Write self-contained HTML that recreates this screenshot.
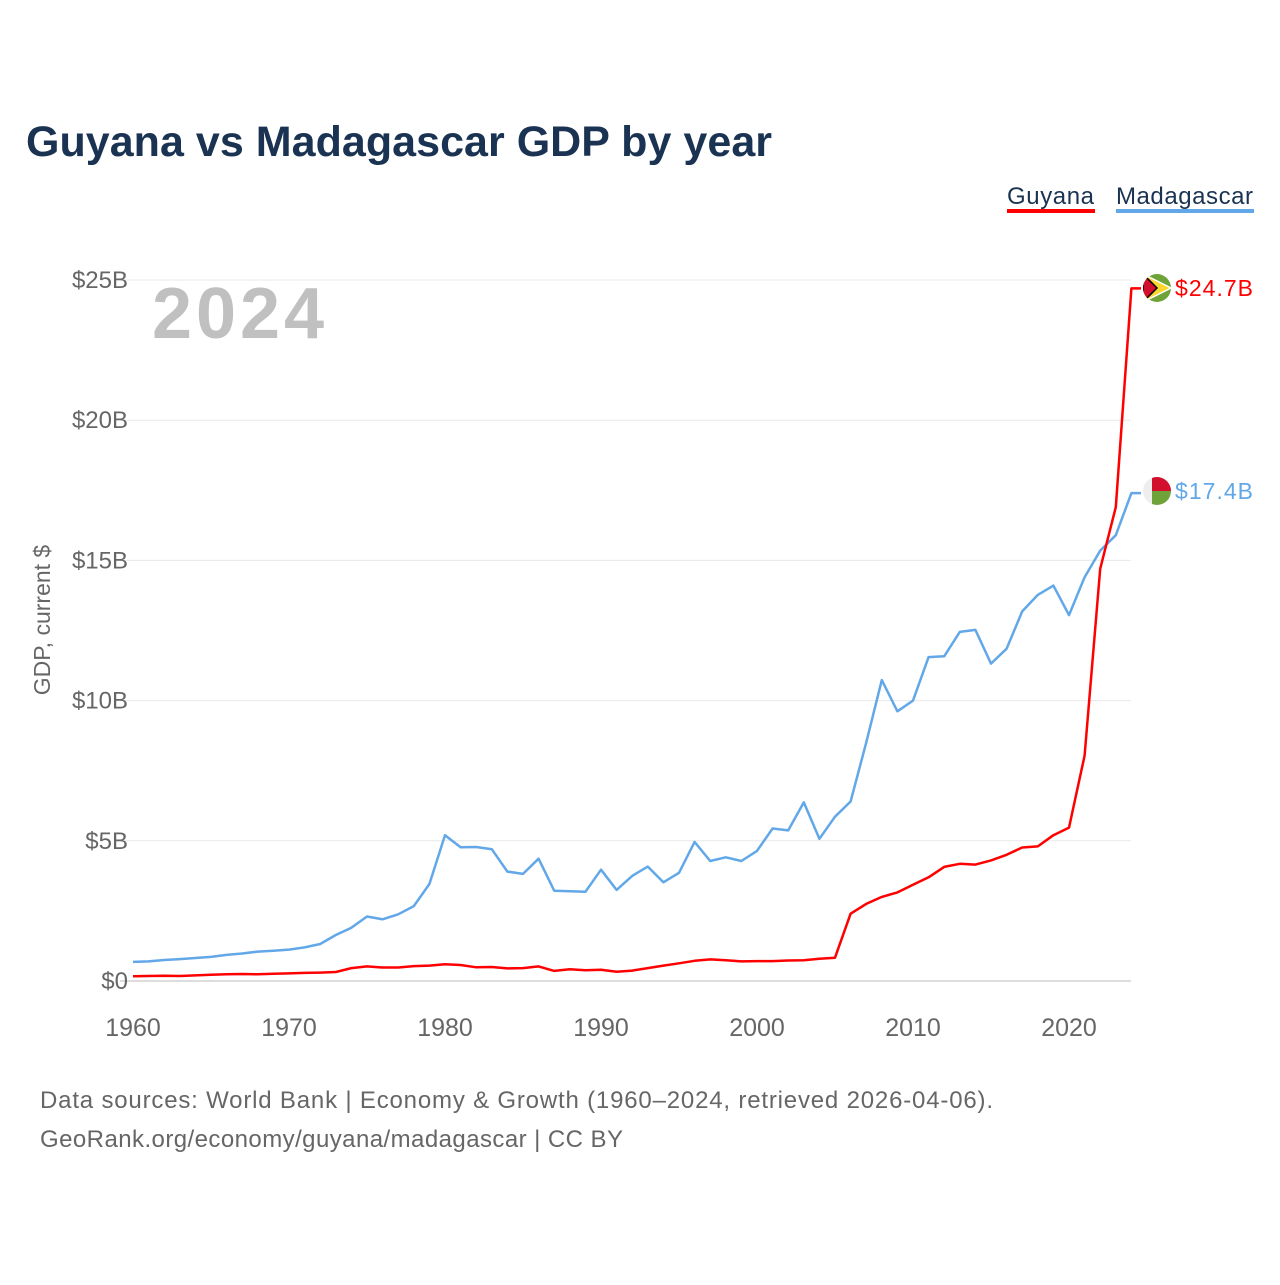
<!DOCTYPE html>
<html><head><meta charset="utf-8"><style>
body{margin:0;background:#fff;width:1280px;height:1280px;overflow:hidden;font-family:"Liberation Sans",sans-serif}
</style></head><body>
<svg width="1280" height="1280" id="chart" xmlns="http://www.w3.org/2000/svg">
<text x="26" y="156" font-size="43" font-weight="bold" fill="#1b3352" textLength="746">Guyana vs Madagascar GDP by year</text>
<g>
<text x="1007" y="204" font-size="24" fill="#1b3352" textLength="87">Guyana</text>
<rect x="1007" y="209" width="88" height="4" fill="#ff0000"/>
<text x="1116" y="204" font-size="24" fill="#1b3352" textLength="137">Madagascar</text>
<rect x="1116" y="209" width="138" height="4" fill="#62a8e8"/>
</g>
<text x="152" y="338" font-size="72" font-weight="bold" fill="#c0c0c0" textLength="172">2024</text>
<text transform="translate(50,620) rotate(-90)" text-anchor="middle" font-size="23" fill="#666">GDP, current $</text>
<g id="grid"></g><g id="lines"></g>
<g>
<clipPath id="cg"><circle cx="1157" cy="288" r="14"/></clipPath>
<g clip-path="url(#cg)"><rect x="1143" y="274" width="28" height="28" fill="#6fa33a"/>
<polygon points="1143,274 1171,288 1143,302" fill="#f8d62e" stroke="#fff" stroke-width="1.5"/>
<polygon points="1143,274 1157,288 1143,302" fill="#d2102e" stroke="#000" stroke-width="1.5"/></g></g>
<g>
<clipPath id="cm"><circle cx="1157" cy="491" r="14"/></clipPath>
<g clip-path="url(#cm)"><rect x="1143" y="477" width="28" height="28" fill="#eee"/>
<rect x="1152" y="477" width="20" height="14" fill="#d2102e"/><rect x="1152" y="491" width="20" height="14" fill="#6fa33a"/></g></g>
<text x="1175" y="296" font-size="23" fill="#ff0000" textLength="78">$24.7B</text>
<text x="1175" y="499" font-size="23" fill="#62a8e8" textLength="78">$17.4B</text>
<text x="40" y="1108" font-size="24" fill="#666" textLength="953">Data sources: World Bank | Economy &amp; Growth (1960–2024, retrieved 2026-04-06).</text>
<text x="40" y="1147" font-size="24" fill="#666" textLength="583">GeoRank.org/economy/guyana/madagascar | CC BY</text>
</svg>
<script>
const years=[];for(let y=1960;y<=2024;y++)years.push(y);
const madagascar=[0.68,0.7,0.75,0.78,0.82,0.86,0.93,0.98,1.05,1.08,1.12,1.2,1.32,1.64,1.9,2.3,2.2,2.38,2.67,3.46,5.2,4.77,4.78,4.7,3.9,3.82,4.36,3.22,3.2,3.18,3.97,3.25,3.75,4.08,3.52,3.86,4.96,4.28,4.41,4.28,4.64,5.44,5.37,6.37,5.07,5.86,6.4,8.5,10.73,9.62,10.0,11.55,11.58,12.45,12.52,11.32,11.85,13.18,13.77,14.1,13.05,14.4,15.35,15.9,17.4];
const guyana=[0.17,0.18,0.19,0.18,0.2,0.22,0.24,0.25,0.24,0.26,0.27,0.29,0.3,0.32,0.46,0.52,0.48,0.48,0.53,0.55,0.6,0.57,0.49,0.5,0.45,0.46,0.52,0.36,0.42,0.38,0.4,0.33,0.37,0.46,0.55,0.63,0.72,0.77,0.74,0.7,0.71,0.71,0.73,0.74,0.79,0.83,2.4,2.75,3.0,3.16,3.43,3.7,4.07,4.18,4.15,4.3,4.5,4.76,4.8,5.2,5.47,8.04,14.7,16.9,24.7];
const yTicks=[0,5,10,15,20,25];
const yTickLabels=["$0","$5B","$10B","$15B","$20B","$25B"];
const xTicks=[1960,1970,1980,1990,2000,2010,2020];
const NS="http://www.w3.org/2000/svg";
const xs=y=>133+(y-1960)*15.6;
const ys=v=>981-v*28.04;
const grid=document.getElementById('grid'),lines=document.getElementById('lines');
function mk(t,a,p){const e=document.createElementNS(NS,t);for(const k in a)e.setAttribute(k,a[k]);p.appendChild(e);return e;}
yTicks.forEach((v,i)=>{
 const l=mk('line',{x1:120,x2:1131,y1:ys(v),y2:ys(v),stroke:v===0?'#ddd':'#e8e8e8','stroke-width':v===0?2:1},grid);
 
 
 const t=mk('text',{x:128,y:ys(v)+8,'text-anchor':'end','font-size':24,fill:'#666'},grid);
 t.textContent=yTickLabels[i];
 
 
});
xTicks.forEach(y=>{
 const t=mk('text',{x:xs(y),y:1036,'text-anchor':'middle','font-size':25,fill:'#666'},grid);
 t.textContent=y;
 
 
});
function line(data,color,name){
 let d=data.map((v,i)=>(i?'L':'M')+xs(years[i]).toFixed(1)+','+ys(v).toFixed(1)).join('');
 d+='L1141,'+ys(data[data.length-1]).toFixed(1);
 const p=mk('path',{d:d,fill:'none',stroke:color,'stroke-width':2.5,'stroke-linejoin':'round'},lines);
 
 
}
line(madagascar,'#62a8e8','madagascar-line');
line(guyana,'#ff0000','guyana-line');
</script>
</body></html>
